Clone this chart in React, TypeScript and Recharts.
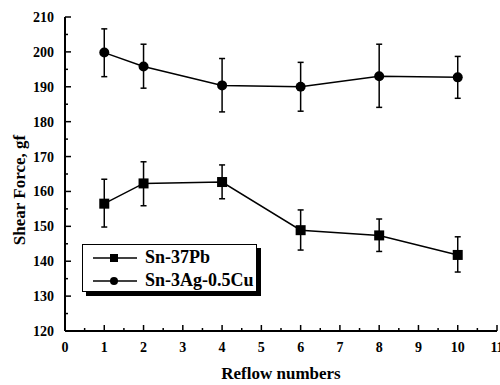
import React from 'react';
import { LineChart, Line, XAxis, YAxis, ErrorBar, Legend } from 'recharts';

// reflow numbers
const reflows = [1, 2, 4, 6, 8, 10];

// Sn-37Pb: mean, upper and lower error bar ends (gf)
const pbMean = [156.5, 162.3, 162.7, 148.9, 147.4, 141.8];
const pbHigh = [163.5, 168.5, 167.6, 154.7, 152.1, 147.0];
const pbLow = [149.8, 155.9, 157.9, 143.2, 142.8, 136.9];

// Sn-3Ag-0.5Cu
const sacMean = [199.8, 195.8, 190.4, 190.0, 193.0, 192.7];
const sacHigh = [206.6, 202.2, 198.1, 197.0, 202.2, 198.7];
const sacLow = [192.9, 189.6, 182.8, 183.0, 184.1, 186.7];

const seriesNames = ['Sn-37Pb', 'Sn-3Ag-0.5Cu'];

const xMajor = [0, 1, 2, 3, 4, 5, 6, 7, 8, 9, 10, 11];
const xMinor = [0.5, 1.5, 2.5, 3.5, 4.5, 5.5, 6.5, 7.5, 8.5, 9.5, 10.5];
const yMajor = [120, 130, 140, 150, 160, 170, 180, 190, 200, 210];
const yMinor = [125, 135, 145, 155, 165, 175, 185, 195, 205];

const data = reflows.map((r, i) => ({
  reflow: r,
  pb: pbMean[i],
  pbErr: [pbMean[i] - pbLow[i], pbHigh[i] - pbMean[i]],
  sac: sacMean[i],
  sacErr: [sacMean[i] - sacLow[i], sacHigh[i] - sacMean[i]],
}));

const FONT = '"Liberation Serif", "Times New Roman", serif';
const txt = { fontFamily: FONT, fontWeight: 'bold' as const, fill: '#000' };

const XTick = (props: any) => {
  const { x, y, payload } = props;
  const major = Number.isInteger(payload.value);
  return (
    <g>
      <line x1={x} x2={x} y1={y} y2={y - (major ? 6 : 3)} stroke="#000" strokeWidth={1.5} />
      {major && (
        <text x={x} y={y + 21} textAnchor="middle" style={{ ...txt, fontSize: 14 }}>
          {payload.value}
        </text>
      )}
    </g>
  );
};

const YTick = (props: any) => {
  const { x, y, payload } = props;
  const major = payload.value % 10 === 0;
  return (
    <g>
      <line x1={x} x2={x + (major ? 6 : 3)} y1={y} y2={y} stroke="#000" strokeWidth={1.5} />
      {major && (
        <text x={x - 11} y={y + 5} textAnchor="end" style={{ ...txt, fontSize: 14 }}>
          {payload.value}
        </text>
      )}
    </g>
  );
};

const renderYTitle = () => (
  <text
    x={25}
    y={190}
    transform="rotate(-90, 25, 190)"
    textAnchor="middle"
    style={{ ...txt, fontSize: 17 }}
  >
    Shear Force, gf
  </text>
);

const SquareDot = (p: any) => (
  <rect key={`sq-${p.index}`} x={p.cx - 5} y={p.cy - 5} width={10} height={10} fill="#000" />
);
const CircleDot = (p: any) => <circle key={`ci-${p.index}`} cx={p.cx} cy={p.cy} r={5} fill="#000" />;

const LegendBox = () => (
  <div
    style={{
      width: 175,
      height: 48,
      border: '1.5px solid #000',
      background: '#fff',
      boxShadow: '4px 4px 0 #000',
      fontFamily: FONT,
      fontWeight: 'bold',
      fontSize: 18,
      color: '#000',
      boxSizing: 'border-box',
    }}
  >
    {seriesNames.map((name, i) => (
      <div key={name} style={{ display: 'flex', alignItems: 'center', height: 23, marginTop: i === 0 ? 1 : 0 }}>
        <svg width={56} height={14} style={{ marginLeft: 6 }}>
          <line x1={4} x2={48} y1={7} y2={7} stroke="#000" strokeWidth={1.5} />
          {i === 0 ? <rect x={21} y={3} width={8} height={8} fill="#000" /> : <circle cx={25} cy={7} r={4} fill="#000" />}
        </svg>
        <span style={{ lineHeight: '23px' }}>{name}</span>
      </div>
    ))}
  </div>
);

export default function App() {
  return (
    <div style={{ position: 'absolute', left: 0, top: 0, width: 500, height: 385, background: '#fff' }}>
      <LineChart width={500} height={385} data={data} margin={{ top: 17, right: 3, bottom: 0, left: 0 }}>
        <XAxis
          dataKey="reflow"
          type="number"
          domain={[0, 11]}
          ticks={[...xMajor, ...xMinor].sort((a, b) => a - b)}
          interval={0}
          tick={<XTick />}
          tickLine={false}
          tickSize={0}
          tickMargin={0}
          height={54}
          axisLine={{ stroke: '#000', strokeWidth: 2 }}
          label={{
            value: 'Reflow numbers',
            position: 'insideBottom',
            offset: 6,
            style: { ...txt, fontSize: 17 },
          }}
        />
        <XAxis
          xAxisId="top"
          orientation="top"
          type="number"
          domain={[0, 11]}
          height={0}
          tick={false}
          tickLine={false}
          axisLine={{ stroke: '#000', strokeWidth: 2 }}
        />
        <YAxis
          type="number"
          domain={[120, 210]}
          ticks={[...yMajor, ...yMinor].sort((a, b) => a - b)}
          interval={0}
          tick={<YTick />}
          tickLine={false}
          tickSize={0}
          tickMargin={0}
          width={65}
          axisLine={{ stroke: '#000', strokeWidth: 2 }}
          label={renderYTitle}
        />
        <YAxis
          yAxisId="right"
          orientation="right"
          type="number"
          domain={[120, 210]}
          width={0}
          tick={false}
          tickLine={false}
          axisLine={{ stroke: '#000', strokeWidth: 2 }}
        />
        <Legend
          layout="vertical"
          align="center"
          verticalAlign="middle"
          content={<LegendBox />}
          wrapperStyle={{ left: 82, top: 244, width: 182 }}
        />
        <Line
          dataKey="pb"
          name={seriesNames[0]}
          stroke="#000"
          strokeWidth={1.5}
          dot={SquareDot}
          isAnimationActive={false}
        >
          <ErrorBar dataKey="pbErr" direction="y" width={3} stroke="#000" strokeWidth={1.5} isAnimationActive={false} />
        </Line>
        <Line
          dataKey="sac"
          name={seriesNames[1]}
          stroke="#000"
          strokeWidth={1.5}
          dot={CircleDot}
          isAnimationActive={false}
        >
          <ErrorBar dataKey="sacErr" direction="y" width={3} stroke="#000" strokeWidth={1.5} isAnimationActive={false} />
        </Line>
      </LineChart>
    </div>
  );
}
